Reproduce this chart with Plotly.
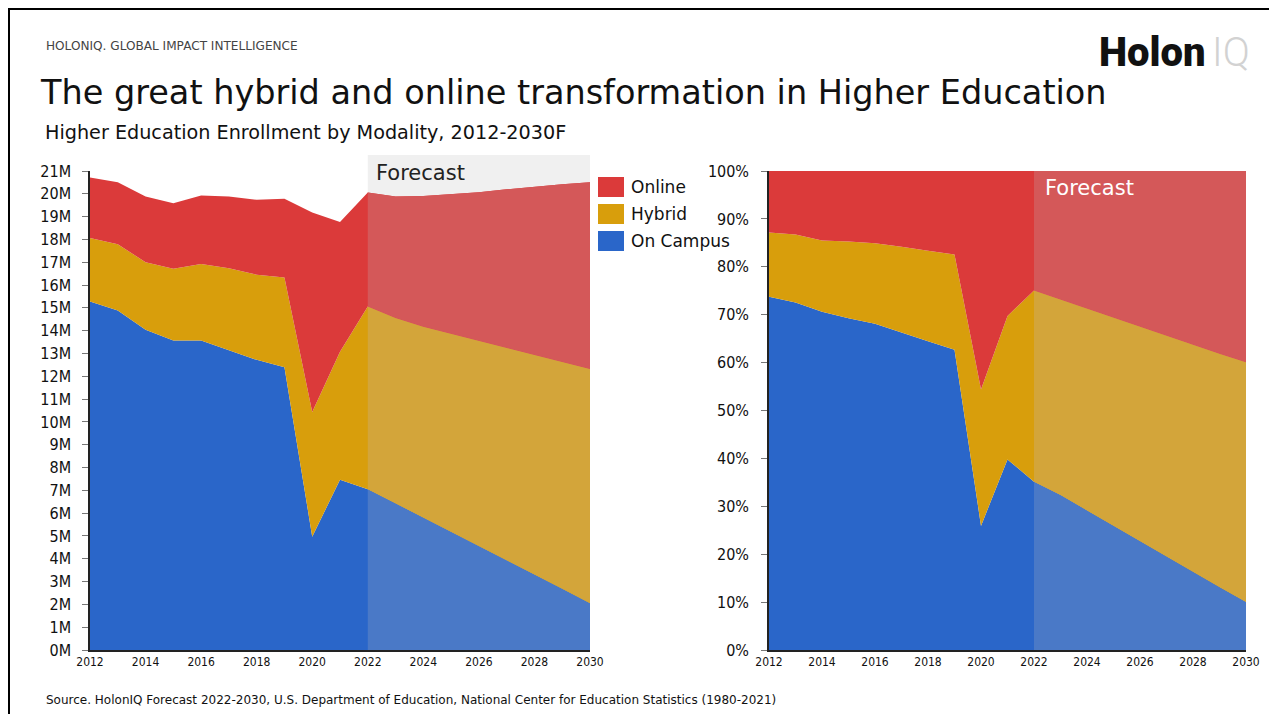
import plotly.graph_objects as go

# ---------------- data ----------------
years = list(range(2012, 2031))
on_campus = [15.28, 14.88, 14.04, 13.57, 13.57, 13.16, 12.72, 12.40, 4.97, 7.46, 7.05,
             6.43, 5.80, 5.18, 4.55, 3.93, 3.30, 2.68, 2.05]
hybrid = [2.78, 2.91, 2.96, 3.14, 3.35, 3.58, 3.73, 3.93, 5.46, 5.62, 8.01,
          8.12, 8.37, 8.68, 9.00, 9.31, 9.64, 9.95, 10.27]
online = [2.66, 2.72, 2.88, 2.88, 3.01, 3.14, 3.29, 3.45, 8.75, 5.68, 5.00,
          5.33, 5.73, 6.12, 6.52, 6.96, 7.38, 7.79, 8.19]
series_names = ["On Campus", "Hybrid", "Online"]
forecast_start = 2022
y_ticks_m = list(range(0, 22))
y_ticks_pct = list(range(0, 101, 10))
x_ticks = list(range(2012, 2031, 2))

# ---------------- style ----------------
W, H = 1261, 706          # figure size (page body has 8px default margin)
OFF_X, OFF_Y = 8, 8
FONT = "DejaVu Sans, sans-serif"
FONT_C = "DejaVu Sans Condensed, DejaVu Sans, sans-serif"
hist_colors = {"On Campus": "#2A66C9", "Hybrid": "#D89E0C", "Online": "#DB3A3A"}
fc_colors = {"On Campus": "#4A79C7", "Hybrid": "#D3A53A", "Online": "#D45859"}


def px(x):
    return (x - OFF_X) / W


def py(y):
    return 1 - (y - OFF_Y) / H


values = {"On Campus": on_campus, "Hybrid": hybrid, "Online": online}
i0 = years.index(forecast_start)

fig = go.Figure()
for axis_suffix, norm in [("", None), ("2", "percent")]:
    for part, sl, colors in [("h", slice(0, None), hist_colors),
                             ("f", slice(i0, None), fc_colors)]:
        for name in series_names:
            kw = dict(
                x=years[sl], y=values[name][sl], name=name,
                mode="lines", line=dict(width=0, color=colors[name]),
                fillcolor=colors[name], stackgroup=part + axis_suffix,
                showlegend=False, hoverinfo="x+y+name",
                xaxis="x" + axis_suffix, yaxis="y" + axis_suffix,
            )
            if norm:
                kw["groupnorm"] = norm
            fig.add_trace(go.Scatter(**kw))

ydom = [py(650), py(171)]
axis_common = dict(showgrid=False, zeroline=False, showline=True, linecolor="#222",
                   linewidth=1.5, automargin=False)
xaxis_common = dict(ticks="", tickfont=dict(size=12, family=FONT_C), **axis_common)
yaxis_common = dict(ticks="outside", ticklen=6, tickcolor="#777",
                    tickfont=dict(size=16, family=FONT_C), **axis_common)
fig.update_layout(
    width=W, height=H, margin=dict(l=0, r=0, t=0, b=0, pad=0, autoexpand=False),
    paper_bgcolor="white", plot_bgcolor="rgba(0,0,0,0)",
    font=dict(family=FONT, color="#111"),
    xaxis=dict(domain=[px(90), px(590)], range=[2012, 2030], tickvals=x_ticks,
               anchor="y", **xaxis_common),
    yaxis=dict(domain=ydom, range=[0, 21], tickvals=y_ticks_m,
               ticktext=[f"{v}M" for v in y_ticks_m],
               ticklabelstandoff=8, anchor="x", **yaxis_common),
    xaxis2=dict(domain=[px(769), px(1246)], range=[2012, 2030], tickvals=x_ticks,
                anchor="y2", **xaxis_common),
    yaxis2=dict(domain=ydom, range=[0, 100], tickvals=y_ticks_pct,
                ticktext=[f"{v}%" for v in y_ticks_pct],
                ticklabelstandoff=9, anchor="x2", **yaxis_common),
)

shapes = [
    # frame
    dict(type="rect", xref="paper", yref="paper", x0=px(8.5), x1=px(1300), y0=py(740), y1=py(8.5),
         line=dict(color="black", width=3), layer="above"),
    # forecast band (left)
    dict(type="rect", xref="x", yref="paper", x0=forecast_start, x1=2030,
         y0=py(650), y1=py(155), fillcolor="#F0F0F0", line=dict(width=0), layer="below"),
]
legend_y = {"Online": 187, "Hybrid": 214, "On Campus": 241}
for name, yc in legend_y.items():
    shapes.append(dict(type="rect", xref="paper", yref="paper", x0=px(598), x1=px(624),
                       y0=py(yc + 10), y1=py(yc - 10), fillcolor=hist_colors[name],
                       line=dict(width=0)))
fig.update_layout(shapes=shapes)

ann = [
    dict(text="HOLONIQ. GLOBAL IMPACT INTELLIGENCE", x=px(44), y=py(46),
         font=dict(size=12.1, color="#444")),
    dict(text="The great hybrid and online transformation in Higher Education", x=px(38), y=py(92),
         font=dict(size=33.5, color="#111")),
    dict(text="Higher Education Enrollment by Modality, 2012-2030F", x=px(43), y=py(133),
         font=dict(size=19.2, color="#111")),
    dict(text="Source. HolonIQ Forecast 2022-2030, U.S. Department of Education, National Center for Education Statistics (1980-2021)",
         x=px(44), y=py(700), font=dict(size=12, color="#111")),
    dict(text="Holon", x=px(1097), y=py(53), font=dict(size=40, color="#111", family="Roboto", weight=900)),
    dict(text="IQ", x=px(1210), y=py(53), font=dict(size=40, color="#D2D2D2", family="Roboto", weight=300)),
    dict(text="Forecast", x=px(374), y=py(173), font=dict(size=21, color="#222")),
    dict(text="Forecast", x=px(1043), y=py(188), font=dict(size=21, color="white")),
]
for name, yc in legend_y.items():
    ann.append(dict(text=name, x=px(629), y=py(yc), font=dict(size=17, color="#111")))
for a in ann:
    a.update(xref="paper", yref="paper", xanchor="left", yanchor="middle", showarrow=False)
fig.update_layout(annotations=ann)

fig.write_html("out.html")
